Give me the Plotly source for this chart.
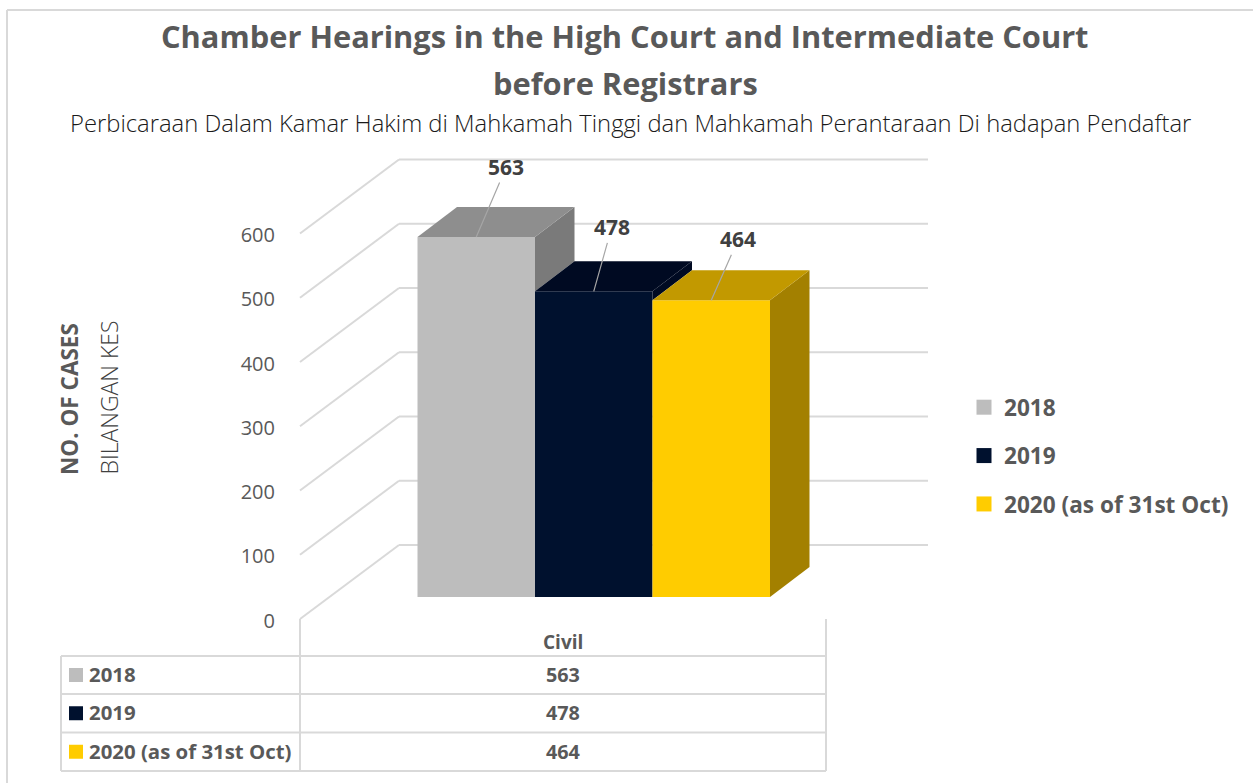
import plotly.graph_objects as go

# ---- data ----
years = ["2018", "2019", "2020 (as of 31st Oct)"]
values = [563, 478, 464]
category = "Civil"
tick_values = [0, 100, 200, 300, 400, 500, 600]
title_lines = ["Chamber Hearings in the High Court and Intermediate Court", "before Registrars"]
subtitle = "Perbicaraan Dalam Kamar Hakim di Mahkamah Tinggi dan Mahkamah Perantaraan Di hadapan Pendaftar"
y_title_en = "NO. OF CASES"
y_title_ms = "BILANGAN KES"

# ---- styles ----
front_colors = ["#BDBDBD", "#00112E", "#FFCC00"]
top_colors = ["#8E8E8E", "#000A22", "#C29900"]
side_colors = ["#7A7A7A", "#000A22", "#A38000"]
GRID = "#D9D9D9"
TEXT = "#595959"
FONT = "Open Sans"
W, H = 1253, 783

# ---- projection of the pseudo-3D scene ----
BASE_PX = 597            # pixel row of value 0 at the bar fronts
K = 360 / 563            # pixels per unit of value at the bars
WALL_K = 0.6425          # pixels per unit of value on the walls
FLOOR_FRONT = 619        # pixel row of value 0 on the front edge of the wall
FLOOR_BACK = 545         # pixel row of value 0 on the back wall
TICK_ZERO = 620.5        # pixel row used by the tick-label axis for value 0
BAR_LEFT = 417.5
BAR_W = 117.5
DEPTH_X = 39.5
DEPTH_V = 30 / K


def to_val(px_row):
    return (BASE_PX - px_row) / K


fig = go.Figure()
centers = [BAR_LEFT + BAR_W * (i + 0.5) for i in range(len(values))]

# front faces
for i, (name, v) in enumerate(zip(years, values)):
    fig.add_trace(go.Bar(
        x=[centers[i]], y=[v], width=BAR_W, name=name, showlegend=False,
        marker=dict(color=front_colors[i], line=dict(width=0)),
        legendgroup=name, hovertemplate=f"{category} {name}: %{{y}}<extra></extra>",
    ))

# legend keys
for i, name in enumerate(years):
    fig.add_trace(go.Scatter(
        x=[None], y=[None], name=name, mode="markers", legendgroup=name,
        marker=dict(symbol="square", size=15, color=front_colors[i], line=dict(width=0)),
    ))

# top and side faces
for i, v in enumerate(values):
    x0 = BAR_LEFT + BAR_W * i
    x1 = x0 + BAR_W
    floor = values[i + 1] if i + 1 < len(values) else 0
    fig.add_trace(go.Scatter(
        x=[x1, x1 + DEPTH_X, x1 + DEPTH_X, x1, x1],
        y=[v, v + DEPTH_V, floor + DEPTH_V, floor, v],
        mode="lines", fill="toself", fillcolor=side_colors[i],
        line=dict(width=0), showlegend=False, hoverinfo="skip",
    ))
    fig.add_trace(go.Scatter(
        x=[x0, x1, x1 + DEPTH_X, x0 + DEPTH_X, x0],
        y=[v, v, v + DEPTH_V, v + DEPTH_V, v],
        mode="lines", fill="toself", fillcolor=top_colors[i],
        line=dict(width=0), showlegend=False, hoverinfo="skip",
    ))

# invisible trace that keeps the tick axis alive
fig.add_trace(go.Scatter(
    x=[300], y=[0], yaxis="y2", mode="markers", marker=dict(opacity=0),
    showlegend=False, hoverinfo="skip",
))

shapes = []


def line(x0, y0, x1, y1):
    shapes.append(dict(type="line", xref="x", yref="y", x0=x0, y0=y0, x1=x1, y1=y1,
                       layer="below", line=dict(color=GRID, width=2)))


def px_line(x0, r0, x1, r1):
    line(x0, to_val(r0), x1, to_val(r1))


WALL_FRONT_X, WALL_BACK_X, WALL_RIGHT_X = 300, 399, 928
for t in tick_values:
    front_v = t * WALL_K / K + to_val(FLOOR_FRONT)
    back_v = t * WALL_K / K + to_val(FLOOR_BACK)
    line(WALL_FRONT_X, front_v, WALL_BACK_X, back_v)
    line(WALL_BACK_X, back_v, WALL_RIGHT_X, back_v)

# data table grid
TABLE_LEFT, TABLE_MID, TABLE_RIGHT = 61, 300, 826
ROWS = [656, 694, 732.5, 771]
for r in ROWS:
    px_line(TABLE_LEFT, r, TABLE_RIGHT, r)
px_line(TABLE_LEFT, ROWS[0], TABLE_LEFT, ROWS[-1])
px_line(TABLE_MID, FLOOR_FRONT, TABLE_MID, ROWS[-1])
px_line(TABLE_RIGHT, FLOOR_FRONT, TABLE_RIGHT, ROWS[-1])

# chart frame
px_line(7, 10, W, 10)
px_line(7, 10, 7, H)

annotations = []


def text(x, row, s, size, color=TEXT, bold=False, anchor="center", angle=0, weight=None):
    annotations.append(dict(
        x=x, y=to_val(row), xref="x", yref="y", text=f"<b>{s}</b>" if bold else s,
        showarrow=False, xanchor=anchor, yanchor="middle", textangle=angle,
        font=dict(family=FONT, size=size, color=color, **({"weight": weight} if weight else {})),
    ))


text(624.5, 36, title_lines[0], 30.8, bold=True)
text(625.5, 83, title_lines[1], 30.8, bold=True)
text(630, 122.5, subtitle, 23.8, color="#1A1A1A", weight=300)
text(69, 399, y_title_en, 22.5, bold=True, angle=-90)
text(108, 397.5, y_title_ms, 23, color="#404040", angle=-90, weight=300)
text(562.5, 642, category, 19, bold=True)

row_mid = [(ROWS[i] + ROWS[i + 1]) / 2 for i in range(3)]
for i, name in enumerate(years):
    text(86.5, row_mid[i] - 1, name, 20.4, bold=True, anchor="left")
    text(562.5, row_mid[i] - 0.5, str(values[i]), 19.8, bold=True)

fig.add_trace(go.Scatter(
    x=[76] * 3, y=[to_val(r) for r in row_mid], mode="markers",
    marker=dict(symbol="square", size=14, color=front_colors, line=dict(width=0)),
    showlegend=False, hoverinfo="skip",
))

# data labels with leader lines
label_offsets = [(30, -70), (18, -64), (27, -61)]
for c, v, (ax, ay) in zip(centers, values, label_offsets):
    annotations.append(dict(
        x=c, y=v, xref="x", yref="y", ax=ax, ay=ay, axref="pixel", ayref="pixel",
        text=f"<b>{v}</b>", showarrow=True, arrowhead=0, arrowwidth=1.2, arrowcolor="#A6A6A6",
        font=dict(family=FONT, size=21, color="#404040"),
    ))

fig.update_layout(
    width=W, height=H, margin=dict(l=0, r=0, t=0, b=0),
    paper_bgcolor="white", plot_bgcolor="white", barmode="overlay",
    showlegend=True,
    legend=dict(
        x=964 / W, xanchor="left", y=1 - 386 / H, yanchor="top",
        font=dict(family=FONT, size=22.6, color=TEXT, weight="bold"),
        traceorder="grouped", tracegroupgap=16, itemclick=False, itemdoubleclick=False,
    ),
    xaxis=dict(range=[0, W], visible=False, fixedrange=True),
    yaxis=dict(range=[to_val(H), to_val(0)], visible=False, fixedrange=True),
    yaxis2=dict(
        range=[(TICK_ZERO - H) / WALL_K, TICK_ZERO / WALL_K], overlaying="y", anchor="free",
        position=275 / W, side="left", tickvals=tick_values, showgrid=False, zeroline=False,
        showline=False, ticks="", fixedrange=True,
        tickfont=dict(family=FONT, size=20, color=TEXT),
    ),
    shapes=shapes, annotations=annotations,
)

fig.write_html("out.html", config={"displayModeBar": False},
               post_script="document.body.style.margin='0';document.body.style.overflow='hidden';")
